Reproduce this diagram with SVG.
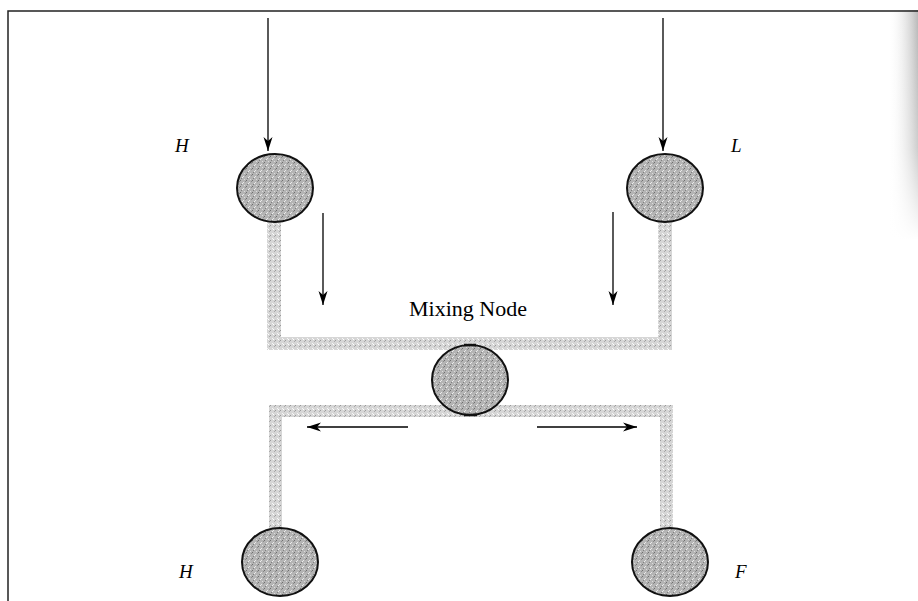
<svg xmlns="http://www.w3.org/2000/svg" width="918" height="601" viewBox="0 0 918 601">
<defs>
<pattern id="speck" width="6" height="6" patternUnits="userSpaceOnUse">
<rect width="6" height="6" fill="#b4b4b4"/>
<rect x="0" y="0" width="1" height="1" fill="#6e6e6e"/>
<rect x="3" y="2" width="1" height="1" fill="#e8e8e8"/>
<rect x="1" y="4" width="1" height="1" fill="#808080"/>
<rect x="4" y="5" width="1" height="1" fill="#dcdcdc"/>
<rect x="5" y="1" width="1" height="1" fill="#8a8a8a"/>
<rect x="2" y="3" width="1" height="1" fill="#f0f0f0"/>
</pattern>
<pattern id="pipespeck" width="5" height="5" patternUnits="userSpaceOnUse">
<rect width="5" height="5" fill="#d6d6d6"/>
<rect x="0" y="0" width="1" height="1" fill="#9a9a9a"/>
<rect x="2" y="3" width="1" height="1" fill="#f6f6f6"/>
<rect x="4" y="1" width="1" height="1" fill="#aaaaaa"/>
<rect x="3" y="4" width="1" height="1" fill="#ffffff"/>
</pattern>
<linearGradient id="edge" x1="0" y1="0" x2="1" y2="0">
<stop offset="0" stop-color="#ffffff" stop-opacity="0"/>
<stop offset="1" stop-color="#9a9a9a" stop-opacity="0.7"/>
</linearGradient>
<linearGradient id="edgefade" x1="0" y1="0" x2="0" y2="1">
<stop offset="0" stop-color="#fff" stop-opacity="0"/>
<stop offset="0.6" stop-color="#fff" stop-opacity="0.3"/>
<stop offset="1" stop-color="#fff" stop-opacity="1"/>
</linearGradient>
<marker id="ah" viewBox="0 0 14 10" refX="14" refY="5" markerWidth="14" markerHeight="10" markerUnits="userSpaceOnUse" orient="auto">
<path d="M0,0.5 L14,5 L0,9.5 L4,5 Z" fill="#000"/>
</marker>
<style>
.node{fill:url(#speck);stroke:#111;stroke-width:2}
.pipe{fill:url(#pipespeck)}
.arr{stroke:#000;stroke-width:1.3;fill:none;marker-end:url(#ah)}
.lbl{font-family:"Liberation Serif",serif;font-style:italic;font-size:19px;fill:#000}
.title{font-family:"Liberation Serif",serif;font-size:22px;fill:#000}
.frame{stroke:#222;stroke-width:1.5;fill:none}
.tick{stroke:#111;stroke-width:2.5}
</style>
</defs>
<rect width="918" height="601" fill="#fff"/>
<rect x="888" y="10" width="30" height="230" fill="url(#edge)"/>
<rect x="886" y="10" width="32" height="230" fill="url(#edgefade)"/>
<path class="frame" d="M8,601 V11 H918"/>
<g id="pipes">
<rect class="pipe" x="267" y="218" width="14" height="132"/>
<rect class="pipe" x="658" y="218" width="14" height="132"/>
<rect class="pipe" x="267" y="337" width="405" height="13"/>
<rect class="pipe" x="269" y="405" width="404" height="12"/>
<rect class="pipe" x="269" y="405" width="13" height="127"/>
<rect class="pipe" x="660" y="405" width="13" height="127"/>
</g>
<g id="node-H-top"><ellipse class="node" cx="275" cy="188" rx="38" ry="34"/><text class="lbl" x="175" y="152">H</text></g>
<g id="node-L-top"><ellipse class="node" cx="665" cy="188" rx="38" ry="34"/><text class="lbl" x="731" y="152">L</text></g>
<g id="node-mix"><ellipse class="node" cx="470" cy="380" rx="38" ry="35"/><line class="tick" x1="464" y1="345" x2="476" y2="345"/><line class="tick" x1="464" y1="415" x2="477" y2="415"/><text class="title" x="468" y="316" text-anchor="middle">Mixing Node</text></g>
<g id="node-H-bottom"><ellipse class="node" cx="280" cy="562" rx="38" ry="34"/><text class="lbl" x="179" y="578">H</text></g>
<g id="node-F-bottom"><ellipse class="node" cx="670" cy="562" rx="38" ry="34"/><text class="lbl" x="735" y="578">F</text></g>
<g id="connectors">
<line class="arr" x1="268" y1="18" x2="268" y2="151"/>
<line class="arr" x1="663" y1="18" x2="663" y2="151"/>
<line class="arr" x1="323" y1="213" x2="323" y2="305"/>
<line class="arr" x1="613" y1="212" x2="613" y2="305"/>
<line class="arr" x1="408" y1="427" x2="307" y2="427"/>
<line class="arr" x1="537" y1="427" x2="637" y2="427"/>
</g>
</svg>
